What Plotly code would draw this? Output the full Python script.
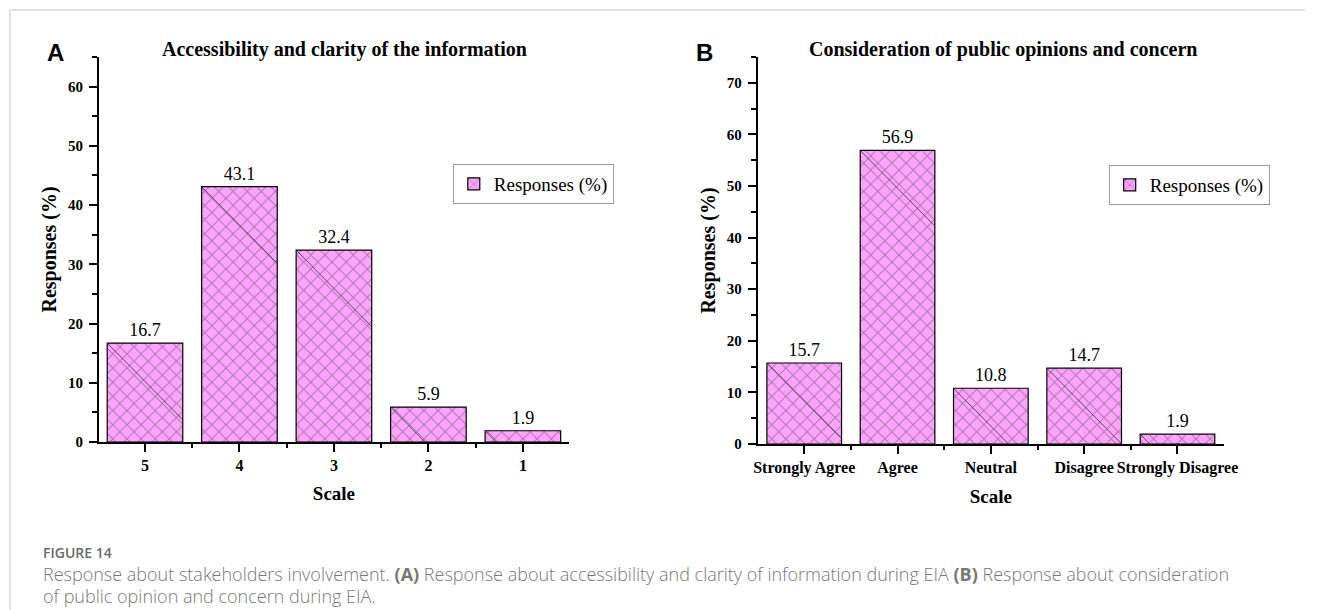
import plotly.graph_objects as go

# ---------------- data ----------------
cats_a = ["5", "4", "3", "2", "1"]
vals_a = [16.7, 43.1, 32.4, 5.9, 1.9]
cats_b = ["Strongly Agree", "Agree", "Neutral", "Disagree", "Strongly Disagree"]
vals_b = [15.7, 56.9, 10.8, 14.7, 1.9]
yticks_a = [0, 10, 20, 30, 40, 50, 60]
yticks_b = [0, 10, 20, 30, 40, 50, 60, 70]
title_a = "Accessibility and clarity of the information"
title_b = "Consideration of public opinions and concern"
series_name = "Responses (%)"

# ---------------- geometry ----------------
W, H = 1319, 610
T, B = 57, 444            # plot area top / bottom (px)
PH = B - T
def px(x):
    return x / W
def py(y):
    return (B - y) / PH

SERIF = "Liberation Serif"
SANS = "Liberation Sans"
PINK = "#FFA3FF"
BAR_W = 0.8

xa_dom = [px(96), px(573)]
xb_dom = [px(764), px(1237)]
xa_rng = [-0.49, len(cats_a) - 1 + 0.49]
xb_rng = [-0.5, len(cats_b) - 1 + 0.5]
ya_rng = [0, 65]
yb_rng = [0, 75]
ya_dom = [py(442), 1]
yb_dom = [0, 1]

pos_a = list(range(len(cats_a)))
pos_b = list(range(len(cats_b)))

fig = go.Figure()

def add_bars(pos, vals, cats, xaxis, yaxis, legend):
    fig.add_trace(go.Bar(
        x=pos, y=vals, width=BAR_W, name=series_name,
        hovertext=cats,
        text=[f"{v:.1f}" for v in vals], textposition="outside",
        textfont=dict(family=SERIF, size=18, color="black"),
        cliponaxis=False,
        marker=dict(color=PINK,
                    line=dict(color="black", width=1.2),
                    pattern=dict(shape="x", bgcolor=PINK, fgcolor="#4a4a4a",
                                 size=10, solidity=0.18)),
        xaxis=xaxis, yaxis=yaxis, legend=legend, showlegend=True,
    ))

def add_diagonals(pos, vals, xdom, xrng, ydom, yrng, xaxis, yaxis):
    # single diagonal stroke in each bar (as in the original rendering)
    px_per_x = (xdom[1] - xdom[0]) * W / (xrng[1] - xrng[0])
    px_per_y = (ydom[1] - ydom[0]) * PH / (yrng[1] - yrng[0])
    drop_full = BAR_W * px_per_x / px_per_y
    xs, ys = [], []
    for p, v in zip(pos, vals):
        drop = min(v, drop_full)
        x0 = p - BAR_W / 2
        xs += [x0, x0 + BAR_W * drop / drop_full, None]
        ys += [v, v - drop, None]
    fig.add_trace(go.Scatter(x=xs, y=ys, mode="lines",
                             line=dict(color="#333333", width=0.8),
                             hoverinfo="skip", showlegend=False,
                             xaxis=xaxis, yaxis=yaxis))

add_bars(pos_a, vals_a, cats_a, "x", "y", "legend")
add_bars(pos_b, vals_b, cats_b, "x2", "y2", "legend2")
add_diagonals(pos_a, vals_a, xa_dom, xa_rng, ya_dom, ya_rng, "x", "y")
add_diagonals(pos_b, vals_b, xb_dom, xb_rng, yb_dom, yb_rng, "x2", "y2")

tickfont = dict(family=SERIF, size=16, color="black", weight="bold")
ytickfont = dict(family=SERIF, size=15, color="black", weight="bold")
titlefont = dict(family=SERIF, size=20, color="black", weight="bold")
xtitlefont = dict(family=SERIF, size=19, color="black", weight="bold")

def xaxis_cfg(dom, rng, pos, cats, anchor):
    return dict(domain=dom, range=rng, anchor=anchor,
                tickmode="array", tickvals=pos, ticktext=cats,
                ticks="outside", ticklen=8, tickwidth=1.5, tickcolor="black",
                minor=dict(tickvals=[p + 0.5 for p in pos[:-1]], ticks="outside",
                           ticklen=4, tickwidth=1.5, tickcolor="black"),
                showline=True, linecolor="black", linewidth=1.5,
                showgrid=False, zeroline=False, fixedrange=True,
                tickfont=tickfont,
                title=dict(text="Scale", font=xtitlefont, standoff=14))

def yaxis_cfg(dom, rng, ticks, anchor):
    return dict(domain=dom, range=rng, anchor=anchor,
                tickmode="array", tickvals=ticks,
                ticks="outside", ticklen=8, tickwidth=1.5, tickcolor="black",
                minor=dict(dtick=5, tick0=5, ticks="outside", ticklen=5,
                           tickwidth=1.5, tickcolor="black", showgrid=False),
                showline=True, linecolor="black", linewidth=1.5,
                showgrid=False, zeroline=False, fixedrange=True,
                tickfont=ytickfont, ticklabelstandoff=3,
                title=dict(text=series_name, font=titlefont, standoff=6))

legend_common = dict(bgcolor="white", bordercolor="#9a9a9a", borderwidth=1,
                     font=dict(family=SERIF, size=19, color="black"),
                     xanchor="left", yanchor="top", itemclick=False,
                     itemdoubleclick=False, tracegroupgap=0)

CAP_FONT = "Open Sans"
annotations = [
    dict(text="A", x=px(52), y=py(53), font=dict(family=SANS, size=24, color="black", weight="bold")),
    dict(text="B", x=px(710), y=py(53), font=dict(family=SANS, size=24, color="black", weight="bold")),
    dict(text=title_a, x=px(345), y=py(50), font=titlefont),
    dict(text=title_b, x=px(1013), y=py(50), font=titlefont),
    dict(text="FIGURE 14", x=px(38), y=py(552), xanchor="left",
         font=dict(family=CAP_FONT, size=14, color="#6a6a6a", weight=600)),
    dict(text="Response about stakeholders involvement. <b>(A)</b> Response about accessibility and clarity of information during EIA <b>(B)</b> Response about consideration",
         x=px(38), y=py(574), xanchor="left",
         font=dict(family=CAP_FONT, size=18, color="#777777", weight=300)),
    dict(text="of public opinion and concern during EIA.",
         x=px(38), y=py(596), xanchor="left",
         font=dict(family=CAP_FONT, size=18, color="#777777", weight=300)),
]
for a in annotations:
    a.setdefault("xanchor", "center")
    a.update(xref="paper", yref="paper", yanchor="middle", showarrow=False)

shapes = [
    dict(type="line", xref="paper", yref="paper", x0=px(6), x1=1, y0=py(10), y1=py(10),
         line=dict(color="#d9d9d9", width=1.5)),
    dict(type="line", xref="paper", yref="paper", x0=px(6), x1=px(6), y0=py(10), y1=py(H),
         line=dict(color="#d9d9d9", width=1.5)),
]

fig.update_layout(
    width=W, height=H, autosize=False,
    margin=dict(l=0, r=0, t=T, b=H - B, pad=0),
    paper_bgcolor="white", plot_bgcolor="white",
    xaxis=xaxis_cfg(xa_dom, xa_rng, pos_a, cats_a, "y"),
    yaxis=yaxis_cfg(ya_dom, ya_rng, yticks_a, "x"),
    xaxis2=xaxis_cfg(xb_dom, xb_rng, pos_b, cats_b, "y2"),
    yaxis2=yaxis_cfg(yb_dom, yb_rng, yticks_b, "x2"),
    legend=dict(x=px(455), y=py(164), **legend_common),
    legend2=dict(x=px(1120), y=py(165), **legend_common),
    annotations=annotations, shapes=shapes,
    bargap=0.2, hovermode="closest",
)

fig.write_html("out.html", config={"displayModeBar": False},
               post_script="document.body.style.margin='0';document.body.style.overflow='hidden';")
